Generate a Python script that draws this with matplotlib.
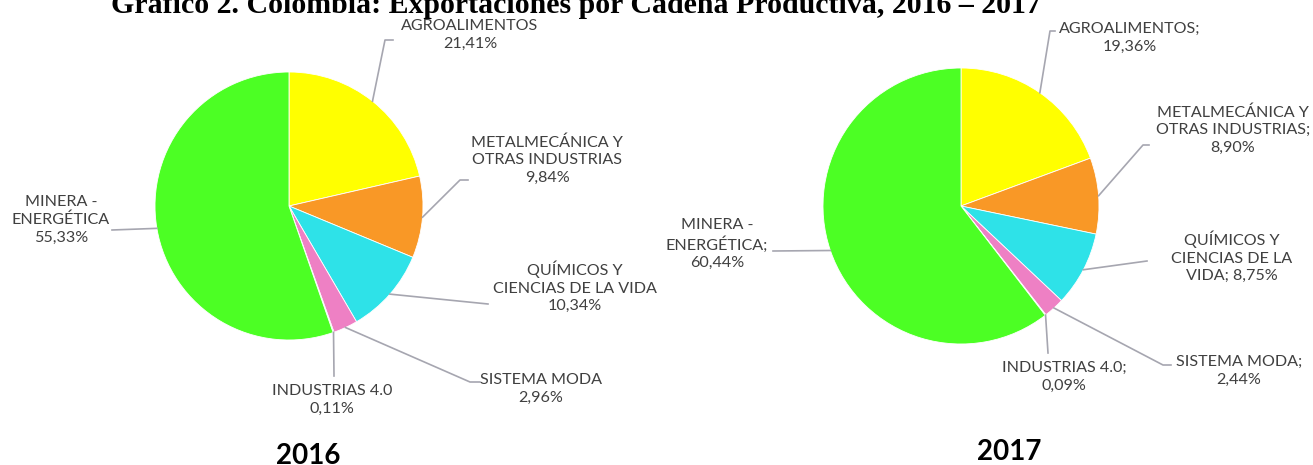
import numpy as np
import matplotlib.pyplot as plt

W, H = 1313, 465

sectores = ["AGROALIMENTOS", "METALMECÁNICA Y OTRAS INDUSTRIAS", "QUÍMICOS Y CIENCIAS DE LA VIDA",
            "SISTEMA MODA", "INDUSTRIAS 4.0", "MINERA - ENERGÉTICA"]
valores_2016 = [21.41, 9.84, 10.34, 2.96, 0.11, 55.33]
valores_2017 = [19.36, 8.90, 8.75, 2.44, 0.09, 60.44]

labels_2016 = ["AGROALIMENTOS\n21,41%", "METALMECÁNICA Y\nOTRAS INDUSTRIAS\n9,84%",
               "QUÍMICOS Y\nCIENCIAS DE LA VIDA\n10,34%", "SISTEMA MODA\n2,96%",
               "INDUSTRIAS 4.0\n0,11%", "MINERA -\nENERGÉTICA\n55,33%"]
labels_2017 = ["AGROALIMENTOS;\n19,36%", "METALMECÁNICA Y\nOTRAS INDUSTRIAS;\n8,90%",
               "QUÍMICOS Y\nCIENCIAS DE LA\nVIDA; 8,75%", "SISTEMA MODA;\n2,44%",
               "INDUSTRIAS 4.0;\n0,09%", "MINERA -\nENERGÉTICA;\n60,44%"]

colores = ["#FFFF00", "#F99826", "#2EE2E8", "#EE80C4", "#6E6E7E", "#4CFF24"]

# layout in pixels (y from top): label centre, leader elbow, short horizontal tick
pies = [
    dict(center=(289, 206), r=134, vals=valores_2016, labels=labels_2016,
         text=[(470, 35), (547, 160), (575, 287), (541, 389), (332, 400), (61, 220)],
         elbow=[(385, 40), (460, 180), (488, 304), (470, 382), (334, 376), (112, 230)],
         tick=[8, 8, 0, 10, 0, 0],
         year="2016", year_pos=(308, 456)),
    dict(center=(961, 206), r=138, vals=valores_2017, labels=labels_2017,
         text=[(1130, 38), (1233, 130), (1232, 257), (1239, 371), (1064, 377), (717, 244)],
         elbow=[(1050, 31), (1143, 145), (1147, 261), (1163, 365), (1048, 353), (773, 251)],
         tick=[5, 6, 0, 8, 0, 0],
         year="2017", year_pos=(1009, 452)),
]

fig = plt.figure(figsize=(W / 100, H / 100), dpi=100)
ax = fig.add_axes([0, 0, 1, 1])

fuente = ["Lato", "DejaVu Sans"]

for p in pies:
    cx, cy = p["center"][0], H - p["center"][1]
    wedges, _ = ax.pie(p["vals"], colors=colores, startangle=90, counterclock=False,
                       center=(cx, cy), radius=p["r"], frame=True,
                       wedgeprops=dict(edgecolor="white", linewidth=0.6))
    for w, lab, (tx, ty), (ex, ey), tk in zip(wedges, p["labels"], p["text"], p["elbow"], p["tick"]):
        ang = np.deg2rad((w.theta1 + w.theta2) / 2)
        px = cx + p["r"] * np.cos(ang)
        py = cy + p["r"] * np.sin(ang)
        ax.plot([px, ex, ex + tk], [py, H - ey, H - ey], color="#A6A6B0", lw=1.2, zorder=1)
        ax.text(tx, H - ty, lab, ha="center", va="center", fontsize=11.6,
                family=fuente, color="#404040", linespacing=1.33)
    ax.text(p["year_pos"][0], H - p["year_pos"][1], p["year"], ha="center", va="center",
            fontsize=20, fontweight="bold", family=fuente, color="black")

ax.set_xlim(0, W)
ax.set_ylim(0, H)
ax.set_aspect("equal")
ax.axis("off")

fig.text(576 / W, 1 - 13 / H, "Gráfico 2. Colombia: Exportaciones por Cadena Productiva, 2016 – 2017",
         ha="center", va="baseline", fontsize=21.5, fontweight="bold", family="Liberation Serif")

fig.savefig("out.png", dpi=100)
